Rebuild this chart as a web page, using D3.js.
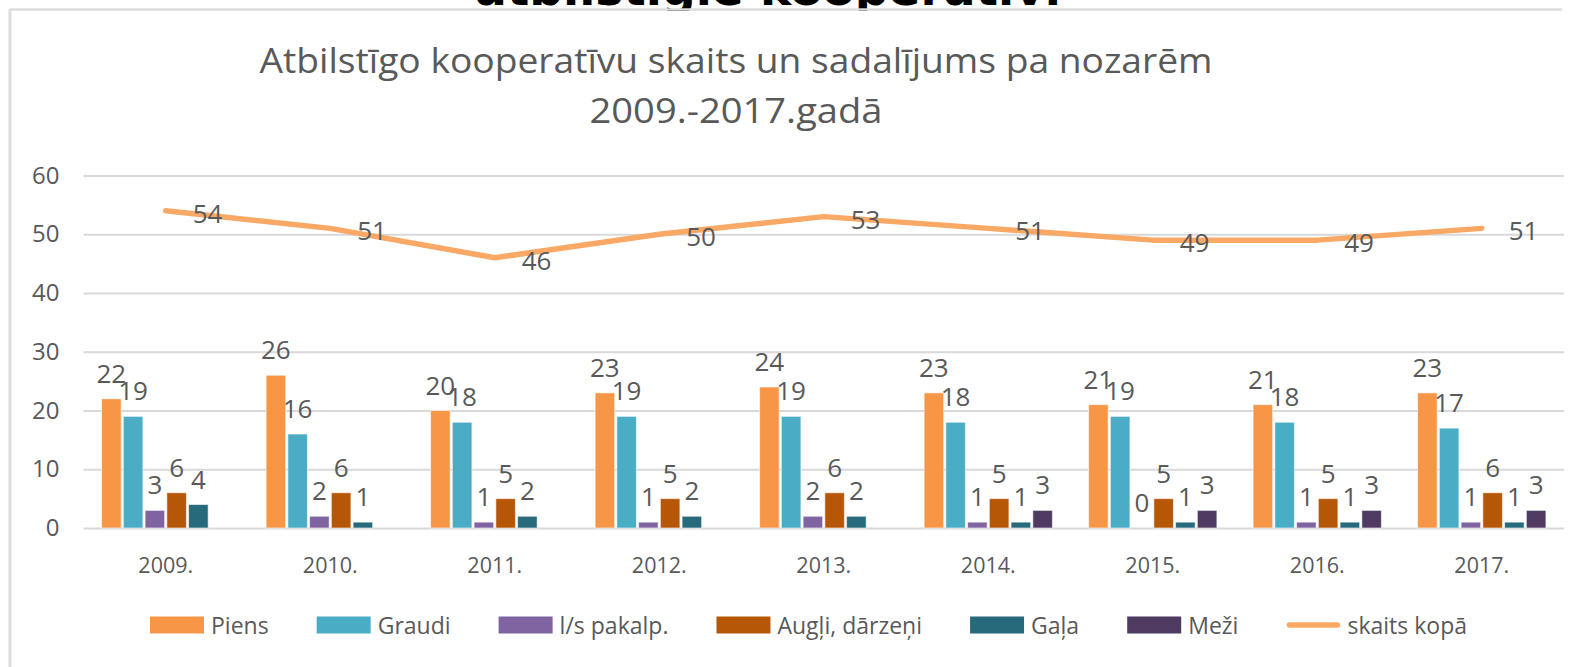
<!DOCTYPE html>
<html><head><meta charset="utf-8">
<script src="https://cdn.jsdelivr.net/npm/d3@7"></script>
<style>body{margin:0;background:#fff;} svg{display:block;}</style>
</head><body>
<svg id="c" width="1584" height="667"></svg>
<script>
// ---- data ----
const years = ["2009.","2010.","2011.","2012.","2013.","2014.","2015.","2016.","2017."];
const piens    = [22,26,20,23,24,23,21,21,23];
const graudi   = [19,16,18,19,19,18,19,18,17];
const lsPakalp = [3,2,1,1,2,1,0,1,1];
const augli    = [6,6,5,5,6,5,5,5,6];
const gala     = [4,1,2,2,2,1,1,1,1];
const mezi     = [null,null,null,null,null,3,3,3,3];
const skaitsKopa = [54,51,46,50,53,51,49,49,51];
const yTicks = [0,10,20,30,40,50,60];
const seriesNames = ["Piens","Graudi","l/s pakalp.","Augļi, dārzeņi","Gaļa","Meži"];
const lineName = "skaits kopā";
const seriesValues = [piens, graudi, lsPakalp, augli, gala, mezi];
const colors = ["#f79646","#4bacc6","#8064a2","#b65708","#276a7c","#4f3b62"];
const lineColor = "#f9a866";
const headText = "atbilstīgie kooperatīvi";
const titleLines = ["Atbilstīgo kooperatīvu skaits un sadalījums pa nozarēm","2009.-2017.gadā"];

const svg = d3.select("#c");
const FONT = "'Open Sans', 'Noto Sans', sans-serif";
const TXT = "#595959";
const GRID = "#d9d9d9";

// heading (cut off at top)
svg.append("defs").append("clipPath").attr("id","topclip")
  .append("rect").attr("x",0).attr("y",0).attr("width",1584).attr("height",11);
svg.append("text").attr("clip-path","url(#topclip)")
  .attr("x",768).attr("y",5).attr("text-anchor","middle")
  .attr("font-family","'DejaVu Sans', sans-serif").attr("font-weight","bold")
  .attr("font-size",46).attr("textLength",586).attr("lengthAdjust","spacingAndGlyphs")
  .attr("fill","#000").text(headText);

// chart frame (top & left edges)
svg.append("line").attr("x1",10).attr("x2",1562).attr("y1",9.5).attr("y2",9.5)
  .attr("stroke","#dcdcdc").attr("stroke-width",2.5);
svg.append("line").attr("x1",10).attr("x2",10).attr("y1",9).attr("y2",667)
  .attr("stroke","#dcdcdc").attr("stroke-width",3);

// title
const titleLens = [953, 293];
titleLines.forEach((t,i)=>{
  svg.append("text").attr("x",736).attr("y",73+i*50).attr("text-anchor","middle")
    .attr("font-family",FONT).attr("font-size",35).attr("fill",TXT)
    .attr("textLength",titleLens[i]).attr("lengthAdjust","spacingAndGlyphs").text(t);
});

// scales
const x0 = d3.scaleBand().domain(years).range([83.5,1564]).paddingInner(0.22).paddingOuter(0.11);
const x1 = d3.scaleBand().domain(seriesNames).range([0,x0.bandwidth()]).paddingInner(0.1);
const y = d3.scaleLinear().domain([0,60]).range([528,175.5]);

// grid + y labels
const yAxis = d3.axisLeft(y).tickValues(yTicks).tickSize(-(1564-83.5)).tickPadding(24);
const gy = svg.append("g").attr("transform","translate(83.5,0)").call(yAxis);
gy.select(".domain").remove();
gy.selectAll(".tick line").attr("stroke",GRID).attr("stroke-width",2.2);
gy.selectAll(".tick text").attr("font-family",FONT).attr("font-size",24).attr("fill",TXT);

// x labels
const xAxis = d3.axisBottom(x0).tickSize(0).tickPadding(30);
const gx = svg.append("g").attr("transform","translate(0,528)").call(xAxis);
gx.select(".domain").remove();
gx.selectAll(".tick text").attr("font-family",FONT).attr("font-size",21.5).attr("fill",TXT);

// bars
const barData = [];
seriesNames.forEach((s,si)=>{
  years.forEach((yr,i)=>{
    const v = seriesValues[si][i];
    if (v !== null) barData.push({s, si, yr, v});
  });
});
svg.append("g").selectAll("rect").data(barData).join("rect")
  .attr("x",d=>x0(d.yr)+x1(d.s))
  .attr("y",d=>y(d.v))
  .attr("width",x1.bandwidth())
  .attr("height",d=>y(0)-y(d.v))
  .attr("fill",d=>colors[d.si])
  .attr("stroke","#fff").attr("stroke-width",1).attr("stroke-opacity",0.6);

svg.append("g").selectAll("text").data(barData).join("text")
  .attr("x",d=>x0(d.yr)+x1(d.s)+x1.bandwidth()/2)
  .attr("y",d=>y(d.v)-16)
  .attr("text-anchor","middle")
  .attr("font-family",FONT).attr("font-size",26).attr("fill",TXT)
  .text(d=>d.v);

// line
const cx = yr => x0(yr)+x0.bandwidth()/2;
const line = d3.line().x((d,i)=>cx(years[i])).y(d=>y(d));
svg.append("path").datum(skaitsKopa).attr("d",line)
  .attr("fill","none").attr("stroke",lineColor).attr("stroke-width",5.5)
  .attr("stroke-linecap","round").attr("stroke-linejoin","round");
svg.append("g").selectAll("text").data(skaitsKopa).join("text")
  .attr("x",(d,i)=>cx(years[i])+27)
  .attr("y",(d,i)=>y(d)+2)
  .attr("dominant-baseline","central")
  .attr("font-family",FONT).attr("font-size",26).attr("fill",TXT)
  .text(d=>d);

// legend
const leg = svg.append("g");
const legItems = seriesNames.map((n,i)=>({n, c:colors[i], type:"rect"})).concat([{n:lineName,c:lineColor,type:"line"}]);
const ly = 625, legStart = 150, legEnd = 1467, swW = 54, swGap = 7;
const texts = legItems.map(it=>leg.append("text").attr("dominant-baseline","central")
  .attr("font-family",FONT).attr("font-size",23).attr("fill",TXT).text(it.n));
const widths = texts.map(t=>t.node().getComputedTextLength());
const used = d3.sum(widths) + legItems.length*(swW+swGap);
const itemGap = (legEnd - legStart - used)/(legItems.length-1);
let lx = legStart;
legItems.forEach((it,i)=>{
  if (it.type==="rect") {
    leg.append("rect").attr("x",lx).attr("y",ly-8.5).attr("width",swW).attr("height",17).attr("fill",it.c);
  } else {
    leg.append("line").attr("x1",lx+3).attr("x2",lx+swW-3).attr("y1",ly).attr("y2",ly)
      .attr("stroke",it.c).attr("stroke-width",5.5).attr("stroke-linecap","round");
  }
  texts[i].attr("x",lx+swW+swGap).attr("y",ly);
  lx += swW + swGap + widths[i] + itemGap;
});
</script>
</body></html>
